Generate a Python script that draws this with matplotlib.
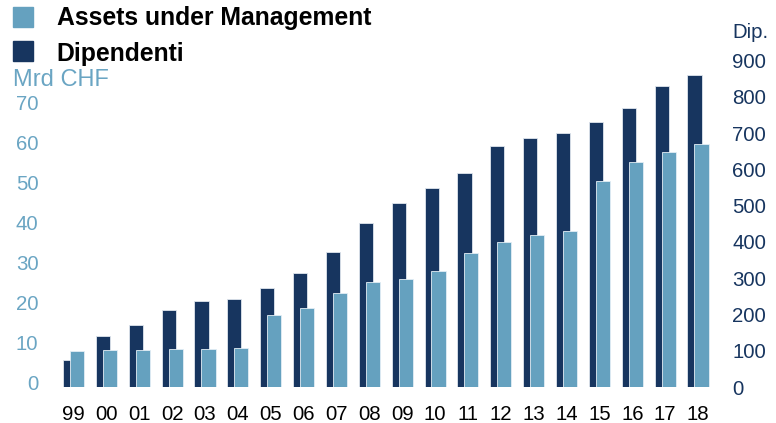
import numpy as np
import matplotlib
matplotlib.use("Agg")
import matplotlib.pyplot as plt
from matplotlib.patches import Rectangle
from matplotlib.transforms import ScaledTranslation

years = ["99", "00", "01", "02", "03", "04", "05", "06", "07", "08",
         "09", "10", "11", "12", "13", "14", "15", "16", "17", "18"]
dipendenti = [74, 142, 171, 212, 236, 243, 272, 315, 372, 453,
              507, 548, 589, 666, 687, 700, 731, 770, 830, 861]
aum = [9.0, 9.2, 9.3, 9.5, 9.6, 9.85, 18.0, 19.85, 23.4, 26.2,
       27.1, 28.9, 33.4, 36.2, 38.0, 38.9, 51.6, 56.2, 58.8, 60.75]

left_ticks = [0, 10, 20, 30, 40, 50, 60, 70]
right_ticks = [0, 100, 200, 300, 400, 500, 600, 700, 800, 900]

dark = "#17355f"
light = "#65a1bf"
light_txt = "#6aa5c3"

plt.rcParams['font.family'] = ['Liberation Sans', 'DejaVu Sans']

W, H = 776, 423
fig = plt.figure(figsize=(W / 100, H / 100), dpi=100)

# axes box in pixels
x0, x1 = 45, 725
y_bot, y_top = 387, 60.7
ax = fig.add_axes([x0 / W, 1 - y_bot / H, (x1 - x0) / W, (y_bot - y_top) / H])
ax2 = ax.twinx()

x = np.arange(len(years))
w = 0.43
off = 0.106

# dipendenti on right scale (primary axes, drawn first)
ax.bar(x - off, dipendenti, width=w, color=dark, edgecolor="#dfe6ee", linewidth=0.6)
ax.set_ylim(0, 900)
ax.yaxis.tick_right()
ax.set_yticks(right_ticks)
ax.tick_params(axis="y", length=0, pad=5.3, labelsize=14.7, labelcolor=dark)

# AUM on left scale, on top
ax2.bar(x + off, aum, width=w, color=light, edgecolor="#e3eef5", linewidth=0.6)
ax2.set_ylim(0, (y_bot - y_top) / 4.0)
ax2.yaxis.tick_left()
ax2.set_yticks(left_ticks)
ax2.tick_params(axis="y", length=0, pad=4.8, labelsize=14.7, labelcolor=light_txt)
for t in ax2.yaxis.get_major_ticks():
    t.label1.set_transform(t.label1.get_transform()
                           + ScaledTranslation(0, 4.5 / 100, fig.dpi_scale_trans))

ax.set_xlim(-(73.5 - x0) / 32.87, 19 + (x1 - 698) / 32.87)
ax.set_xticks(x)
ax.set_xticklabels(years)
ax.tick_params(axis="x", length=0, pad=13, labelsize=14.7, labelcolor="black")

for a in (ax, ax2):
    for s in a.spines.values():
        s.set_visible(False)

# legend
fig.patches.append(Rectangle((13 / W, 1 - 27 / H), 20 / W, 20 / H,
                             transform=fig.transFigure, color=light))
fig.patches.append(Rectangle((13 / W, 1 - 61 / H), 20 / W, 20 / H,
                             transform=fig.transFigure, color=dark))
fig.text(56.7 / W, 1 - 25 / H, "Assets under Management", fontsize=17.8,
         fontweight="bold", va="baseline", ha="left", color="black")
fig.text(56.7 / W, 1 - 61 / H, "Dipendenti", fontsize=17.8,
         fontweight="bold", va="baseline", ha="left", color="black")

# axis units
fig.text(12.7 / W, 1 - 86 / H, "Mrd CHF", fontsize=17, color=light_txt,
         va="baseline", ha="left")
fig.text(732 / W, 1 - 38.3 / H, "Dip.", fontsize=14.7, color=dark,
         va="baseline", ha="left")

fig.savefig("out.png", dpi=100)
